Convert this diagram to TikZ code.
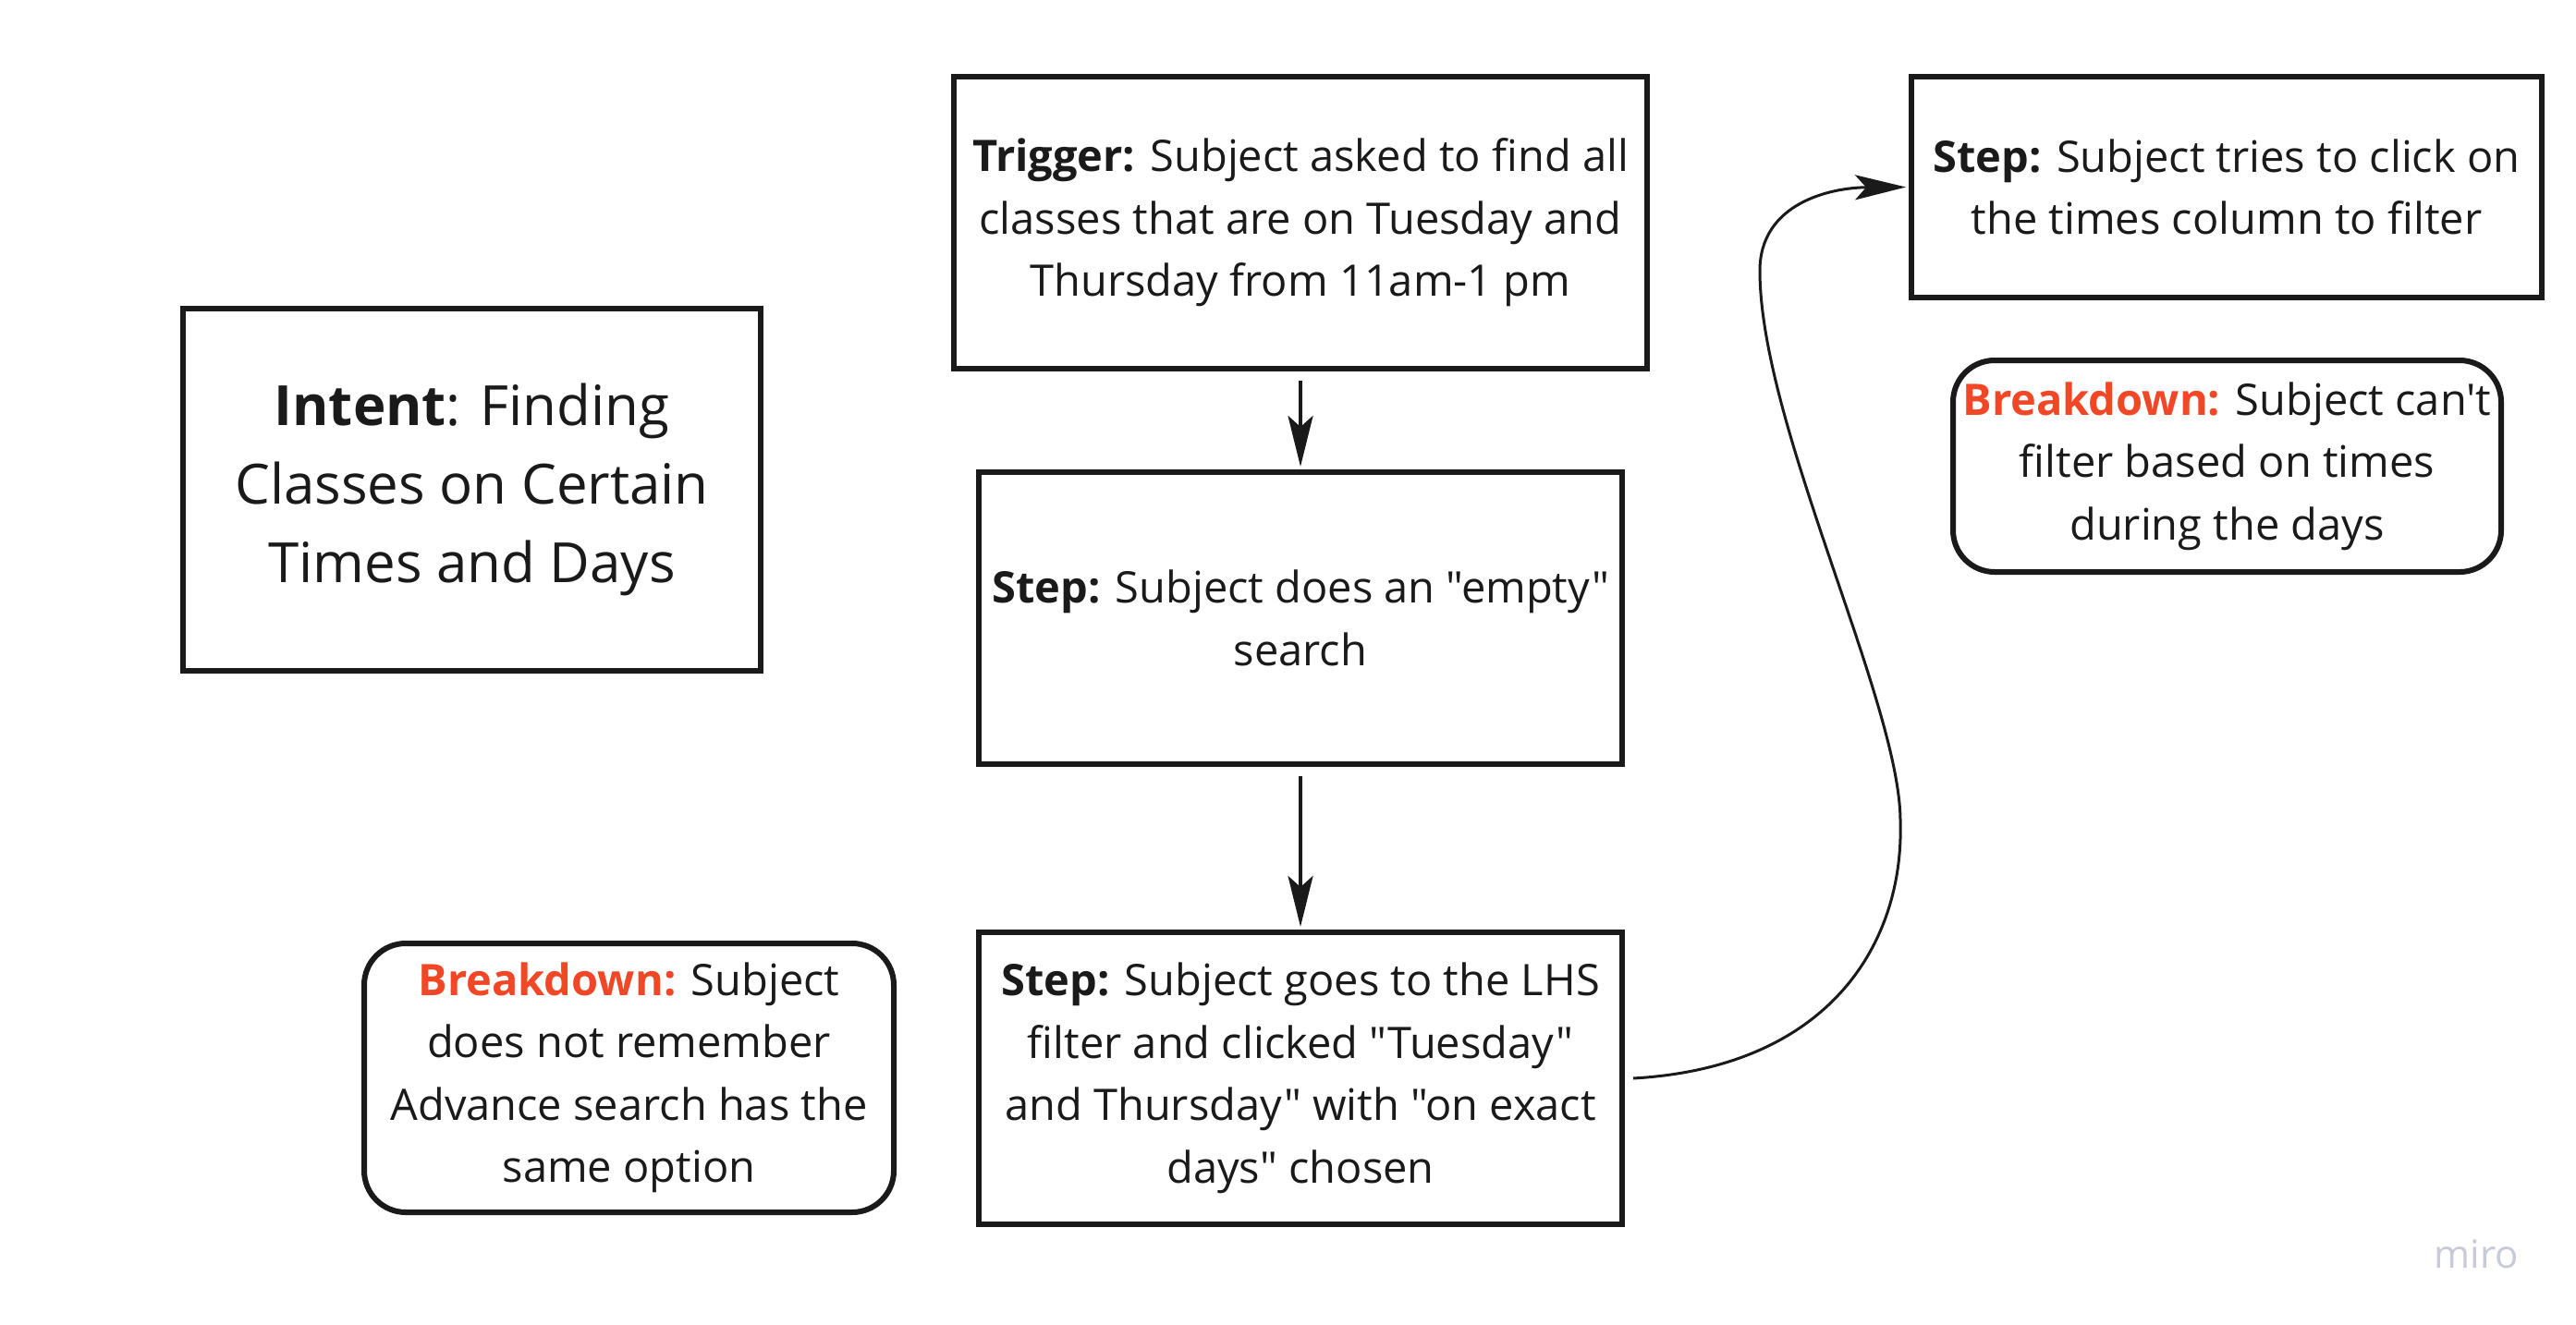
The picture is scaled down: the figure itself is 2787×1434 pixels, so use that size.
\documentclass[tikz,border=0pt]{standalone}
\usepackage{fontspec}
\setmainfont{Open Sans}[Ligatures=TeXOff]
\usetikzlibrary{arrows.meta}
\definecolor{ink}{HTML}{1A1A1A}
\definecolor{bdred}{HTML}{F24726}
\definecolor{mirogray}{RGB}{200,202,216}
\begin{document}
\begin{tikzpicture}[x=1pt,y=-1pt,
  box/.style={draw=ink, line width=6pt, rectangle, align=center, text=ink,
    font=\fontsize{47}{67.5}\selectfont, inner sep=0pt},
  rbox/.style={box, rounded corners=45pt},
  arr/.style={-{Stealth[length=55pt,width=27pt,inset=12pt]}, line width=4pt, draw=ink}]
\useasboundingbox[fill=white] (0,0) rectangle (2787,1434);

\node[box, minimum width=625pt, minimum height=392pt,
  font=\fontsize{60}{85}\selectfont] (intent) at (510.5,530)
  {\textbf{Intent}: Finding\\Classes on Certain\\Times and Days};

\node[box, minimum width=750pt, minimum height=316pt] (trigger) at (1407,241)
  {\textbf{Trigger:} Subject asked to find all\\classes that are on Tuesday and\\Thursday from 11am-1 pm};

\node[box, minimum width=696pt, minimum height=316pt] (step1) at (1407,669)
  {\textbf{Step:} Subject does an "empty"\\search};

\node[box, minimum width=696pt, minimum height=316pt] (step2) at (1407,1167)
  {\textbf{Step:} Subject goes to the LHS\\filter and clicked "Tuesday"\\and Thursday" with "on exact\\days" chosen};

\node[rbox, minimum width=573pt, minimum height=291pt] (bdleft) at (680.5,1166.5)
  {{\color{bdred}\textbf{Breakdown:}} Subject\\does not remember\\Advance search has the\\same option};

\node[box, minimum width=682pt, minimum height=239pt] (steptr) at (2409,202.5)
  {\textbf{Step:} Subject tries to click on\\the times column to filter};

\node[rbox, minimum width=593pt, minimum height=229pt] (bdright) at (2409.5,504.5)
  {{\color{bdred}\textbf{Breakdown:}} Subject can't\\filter based on times\\during the days};

\node[text=mirogray, font=\fontsize{42}{46}\selectfont] (miro) at (2679,1357) {miro};

\draw[arr] ([yshift=-10pt]trigger.south) -- ([yshift=3pt]step1.north);
\draw[arr] ([yshift=-10pt]step1.south) -- ([yshift=3pt]step2.north);
\draw[arr, line width=3pt] ([xshift=9pt]step2.east)
  .. controls (1980,1155) and (2060,1020) .. (2056,889)
  .. controls (2056,760) and (1904,460) .. (1904,293)
  .. controls (1904,220) and (1980,203) .. ([xshift=-3pt]steptr.west);
\end{tikzpicture}
\end{document}
